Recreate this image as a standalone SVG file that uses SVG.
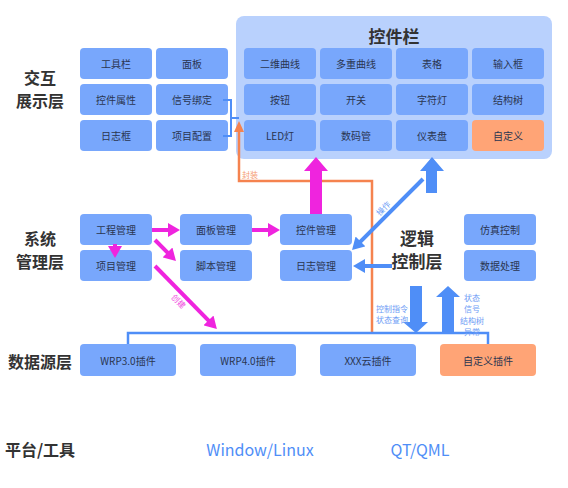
<svg xmlns="http://www.w3.org/2000/svg" width="568" height="488" viewBox="0 0 568 488">
<defs>
<style>
.n{fill:#78a7fc}
.o{fill:#ffa476}
.t{font-family:"Noto Sans CJK SC","Noto Sans",sans-serif;font-size:10px;fill:#2a3550;text-anchor:middle;dominant-baseline:central}
.L{font-family:"Noto Sans CJK SC",sans-serif;font-size:16px;font-weight:bold;fill:#333;text-anchor:middle;dominant-baseline:central}
.s{font-family:"Noto Sans CJK SC",sans-serif;font-size:8px;text-anchor:middle;dominant-baseline:central}
.pk{stroke:#ef24de;stroke-width:4;fill:none}
.bl{stroke:#4f8ef7;stroke-width:4;fill:none}
</style>
<marker id="hp" markerUnits="userSpaceOnUse" markerWidth="12" markerHeight="14" refX="4" refY="7" orient="auto">
<path d="M0,0 L12,7 L0,14 z" fill="#ef24de"/>
</marker>
<marker id="hb" markerUnits="userSpaceOnUse" markerWidth="12" markerHeight="14" refX="4" refY="7" orient="auto">
<path d="M0,0 L12,7 L0,14 z" fill="#4f8ef7"/>
</marker>
<marker id="ho" markerUnits="userSpaceOnUse" markerWidth="12" markerHeight="10" refX="2" refY="5" orient="auto">
<path d="M0,0 L11,5 L0,10 z" fill="#f5834f"/>
</marker>
</defs>
<rect width="568" height="488" fill="#fff"/>

<g id="layer-labels">
<text class="L" x="40" y="77">交互</text>
<text class="L" x="40" y="100">展示层</text>
<text class="L" x="40" y="238">系统</text>
<text class="L" x="40" y="261">管理层</text>
<text class="L" x="40" y="361">数据源层</text>
<text class="L" x="40" y="449">平台/工具</text>
<text class="L" x="417" y="237" style="font-size:17px">逻辑</text>
<text class="L" x="417" y="260" style="font-size:17px">控制层</text>
</g>

<g id="control-bar">
<rect x="236" y="16" width="316" height="143" rx="8" fill="#b9d1fd"/>
<text class="L" x="394" y="35" style="font-size:17px">控件栏</text>
</g>

<g id="node-toolbar"><rect class="n" x="80" y="48" width="72" height="31" rx="4"/><text class="t" x="116" y="63.5">工具栏</text></g>
<g id="node-panel"><rect class="n" x="156" y="48" width="72" height="31" rx="4"/><text class="t" x="192" y="63.5">面板</text></g>
<g id="node-ctrlprop"><rect class="n" x="80" y="84" width="72" height="31" rx="4"/><text class="t" x="116" y="99.5">控件属性</text></g>
<g id="node-signal"><rect class="n" x="156" y="84" width="72" height="31" rx="4"/><text class="t" x="192" y="99.5">信号绑定</text></g>
<g id="node-log"><rect class="n" x="80" y="120" width="72" height="31" rx="4"/><text class="t" x="116" y="135.5">日志框</text></g>
<g id="node-projcfg"><rect class="n" x="156" y="120" width="72" height="31" rx="4"/><text class="t" x="192" y="135.5">项目配置</text></g>

<g id="node-curve2d"><rect class="n" x="244" y="48" width="72" height="31" rx="4"/><text class="t" x="280" y="63.5">二维曲线</text></g>
<g id="node-multicurve"><rect class="n" x="320" y="48" width="72" height="31" rx="4"/><text class="t" x="356" y="63.5">多重曲线</text></g>
<g id="node-table"><rect class="n" x="396" y="48" width="72" height="31" rx="4"/><text class="t" x="432" y="63.5">表格</text></g>
<g id="node-input"><rect class="n" x="472" y="48" width="72" height="31" rx="4"/><text class="t" x="508" y="63.5">输入框</text></g>
<g id="node-button"><rect class="n" x="244" y="84" width="72" height="31" rx="4"/><text class="t" x="280" y="99.5">按钮</text></g>
<g id="node-switch"><rect class="n" x="320" y="84" width="72" height="31" rx="4"/><text class="t" x="356" y="99.5">开关</text></g>
<g id="node-charlamp"><rect class="n" x="396" y="84" width="72" height="31" rx="4"/><text class="t" x="432" y="99.5">字符灯</text></g>
<g id="node-tree"><rect class="n" x="472" y="84" width="72" height="31" rx="4"/><text class="t" x="508" y="99.5">结构树</text></g>
<g id="node-led"><rect class="n" x="244" y="120" width="72" height="31" rx="4"/><text class="t" x="280" y="135.5">LED灯</text></g>
<g id="node-digit"><rect class="n" x="320" y="120" width="72" height="31" rx="4"/><text class="t" x="356" y="135.5">数码管</text></g>
<g id="node-gauge"><rect class="n" x="396" y="120" width="72" height="31" rx="4"/><text class="t" x="432" y="135.5">仪表盘</text></g>
<g id="node-custom"><rect class="o" x="472" y="120" width="72" height="31" rx="4"/><text class="t" x="508" y="135.5">自定义</text></g>

<g id="node-projmgr"><rect class="n" x="80" y="214" width="72" height="31" rx="4"/><text class="t" x="116" y="229.5">工程管理</text></g>
<g id="node-itemmgr"><rect class="n" x="80" y="250" width="72" height="31" rx="4"/><text class="t" x="116" y="265.5">项目管理</text></g>
<g id="node-panelmgr"><rect class="n" x="180" y="214" width="72" height="31" rx="4"/><text class="t" x="216" y="229.5">面板管理</text></g>
<g id="node-scriptmgr"><rect class="n" x="180" y="250" width="72" height="31" rx="4"/><text class="t" x="216" y="265.5">脚本管理</text></g>
<g id="node-ctrlmgr"><rect class="n" x="280" y="214" width="72" height="31" rx="4"/><text class="t" x="316" y="229.5">控件管理</text></g>
<g id="node-logmgr"><rect class="n" x="280" y="250" width="72" height="31" rx="4"/><text class="t" x="316" y="265.5">日志管理</text></g>
<g id="node-sim"><rect class="n" x="464" y="214" width="72" height="31" rx="4"/><text class="t" x="500" y="229.5">仿真控制</text></g>
<g id="node-data"><rect class="n" x="464" y="250" width="72" height="31" rx="4"/><text class="t" x="500" y="265.5">数据处理</text></g>

<g id="node-wrp3"><rect class="n" x="80" y="344" width="96" height="32" rx="4"/><text class="t" x="128" y="360">WRP3.0插件</text></g>
<g id="node-wrp4"><rect class="n" x="200" y="344" width="96" height="32" rx="4"/><text class="t" x="248" y="360">WRP4.0插件</text></g>
<g id="node-xxx"><rect class="n" x="320" y="344" width="96" height="32" rx="4"/><text class="t" x="368" y="360">XXX云插件</text></g>
<g id="node-customplugin"><rect class="o" x="440" y="344" width="96" height="32" rx="4"/><text class="t" x="488" y="360">自定义插件</text></g>

<g id="platform">
<text x="260" y="449" style="font-family:'Noto Sans CJK SC',sans-serif;font-size:16px;fill:#4f8ef7;text-anchor:middle;dominant-baseline:central">Window/Linux</text>
<text x="420" y="449" style="font-family:'Noto Sans CJK SC',sans-serif;font-size:16px;fill:#4f8ef7;text-anchor:middle;dominant-baseline:central">QT/QML</text>
</g>

<g id="connectors">
<path d="M223,100 H231 V136 H223 M231,118 H239" stroke="#4f8ef7" stroke-width="2" fill="none"/>
<path d="M372,333 V181 H239 V130" stroke="#f5834f" stroke-width="2.5" fill="none" marker-end="url(#ho)"/>
<text class="s" x="250" y="174" style="fill:#f59a6e">封装</text>
<path d="M128,344 V333 H488 V344" stroke="#4f8ef7" stroke-width="2.5" fill="none"/>

<line class="pk" x1="152" y1="230" x2="172" y2="230" marker-end="url(#hp)"/>
<line class="pk" x1="252" y1="230" x2="272" y2="230" marker-end="url(#hp)"/>
<line class="pk" x1="115" y1="244" x2="115" y2="250" marker-end="url(#hp)"/>
<line class="pk" x1="155" y1="240" x2="170.3" y2="255.3" marker-end="url(#hp)"/>
<line class="pk" x1="155" y1="266" x2="211.3" y2="323.3" marker-end="url(#hp)"/>
<text class="s" x="179" y="301" transform="rotate(45 179 301)" style="fill:#f050e0">创建</text>

<line class="bl" x1="423" y1="179" x2="357.7" y2="244.3" marker-end="url(#hb)"/>
<text class="s" x="383" y="208" transform="rotate(-45 383 208)" style="fill:#6d9cf5">操作</text>
<line class="bl" x1="392" y1="266" x2="361" y2="266" marker-end="url(#hb)"/>

<polygon points="310,214 310,171 304,171 316,157 328,171 322,171 322,214" fill="#ef24de"/>
<polygon points="426,193 426,171 420,171 432,157 444,171 437,171 437,193" fill="#4f8ef7"/>
<polygon points="410,286 422,286 422,322 428,322 416,333 403,322 410,322" fill="#4f8ef7"/>
<polygon points="442,333 442,297 436,297 448,286 460,297 454,297 454,333" fill="#4f8ef7"/>

<text class="s" x="392" y="308" style="fill:#6d9cf5">控制指令</text>
<text class="s" x="392" y="319" style="fill:#6d9cf5">状态查询</text>
<text class="s" x="472" y="297" style="fill:#6d9cf5">状态</text>
<text class="s" x="472" y="308" style="fill:#6d9cf5">信号</text>
<text class="s" x="472" y="320" style="fill:#6d9cf5">结构树</text>
<text class="s" x="472" y="331" style="fill:#6d9cf5">异常</text>
</g>
</svg>
